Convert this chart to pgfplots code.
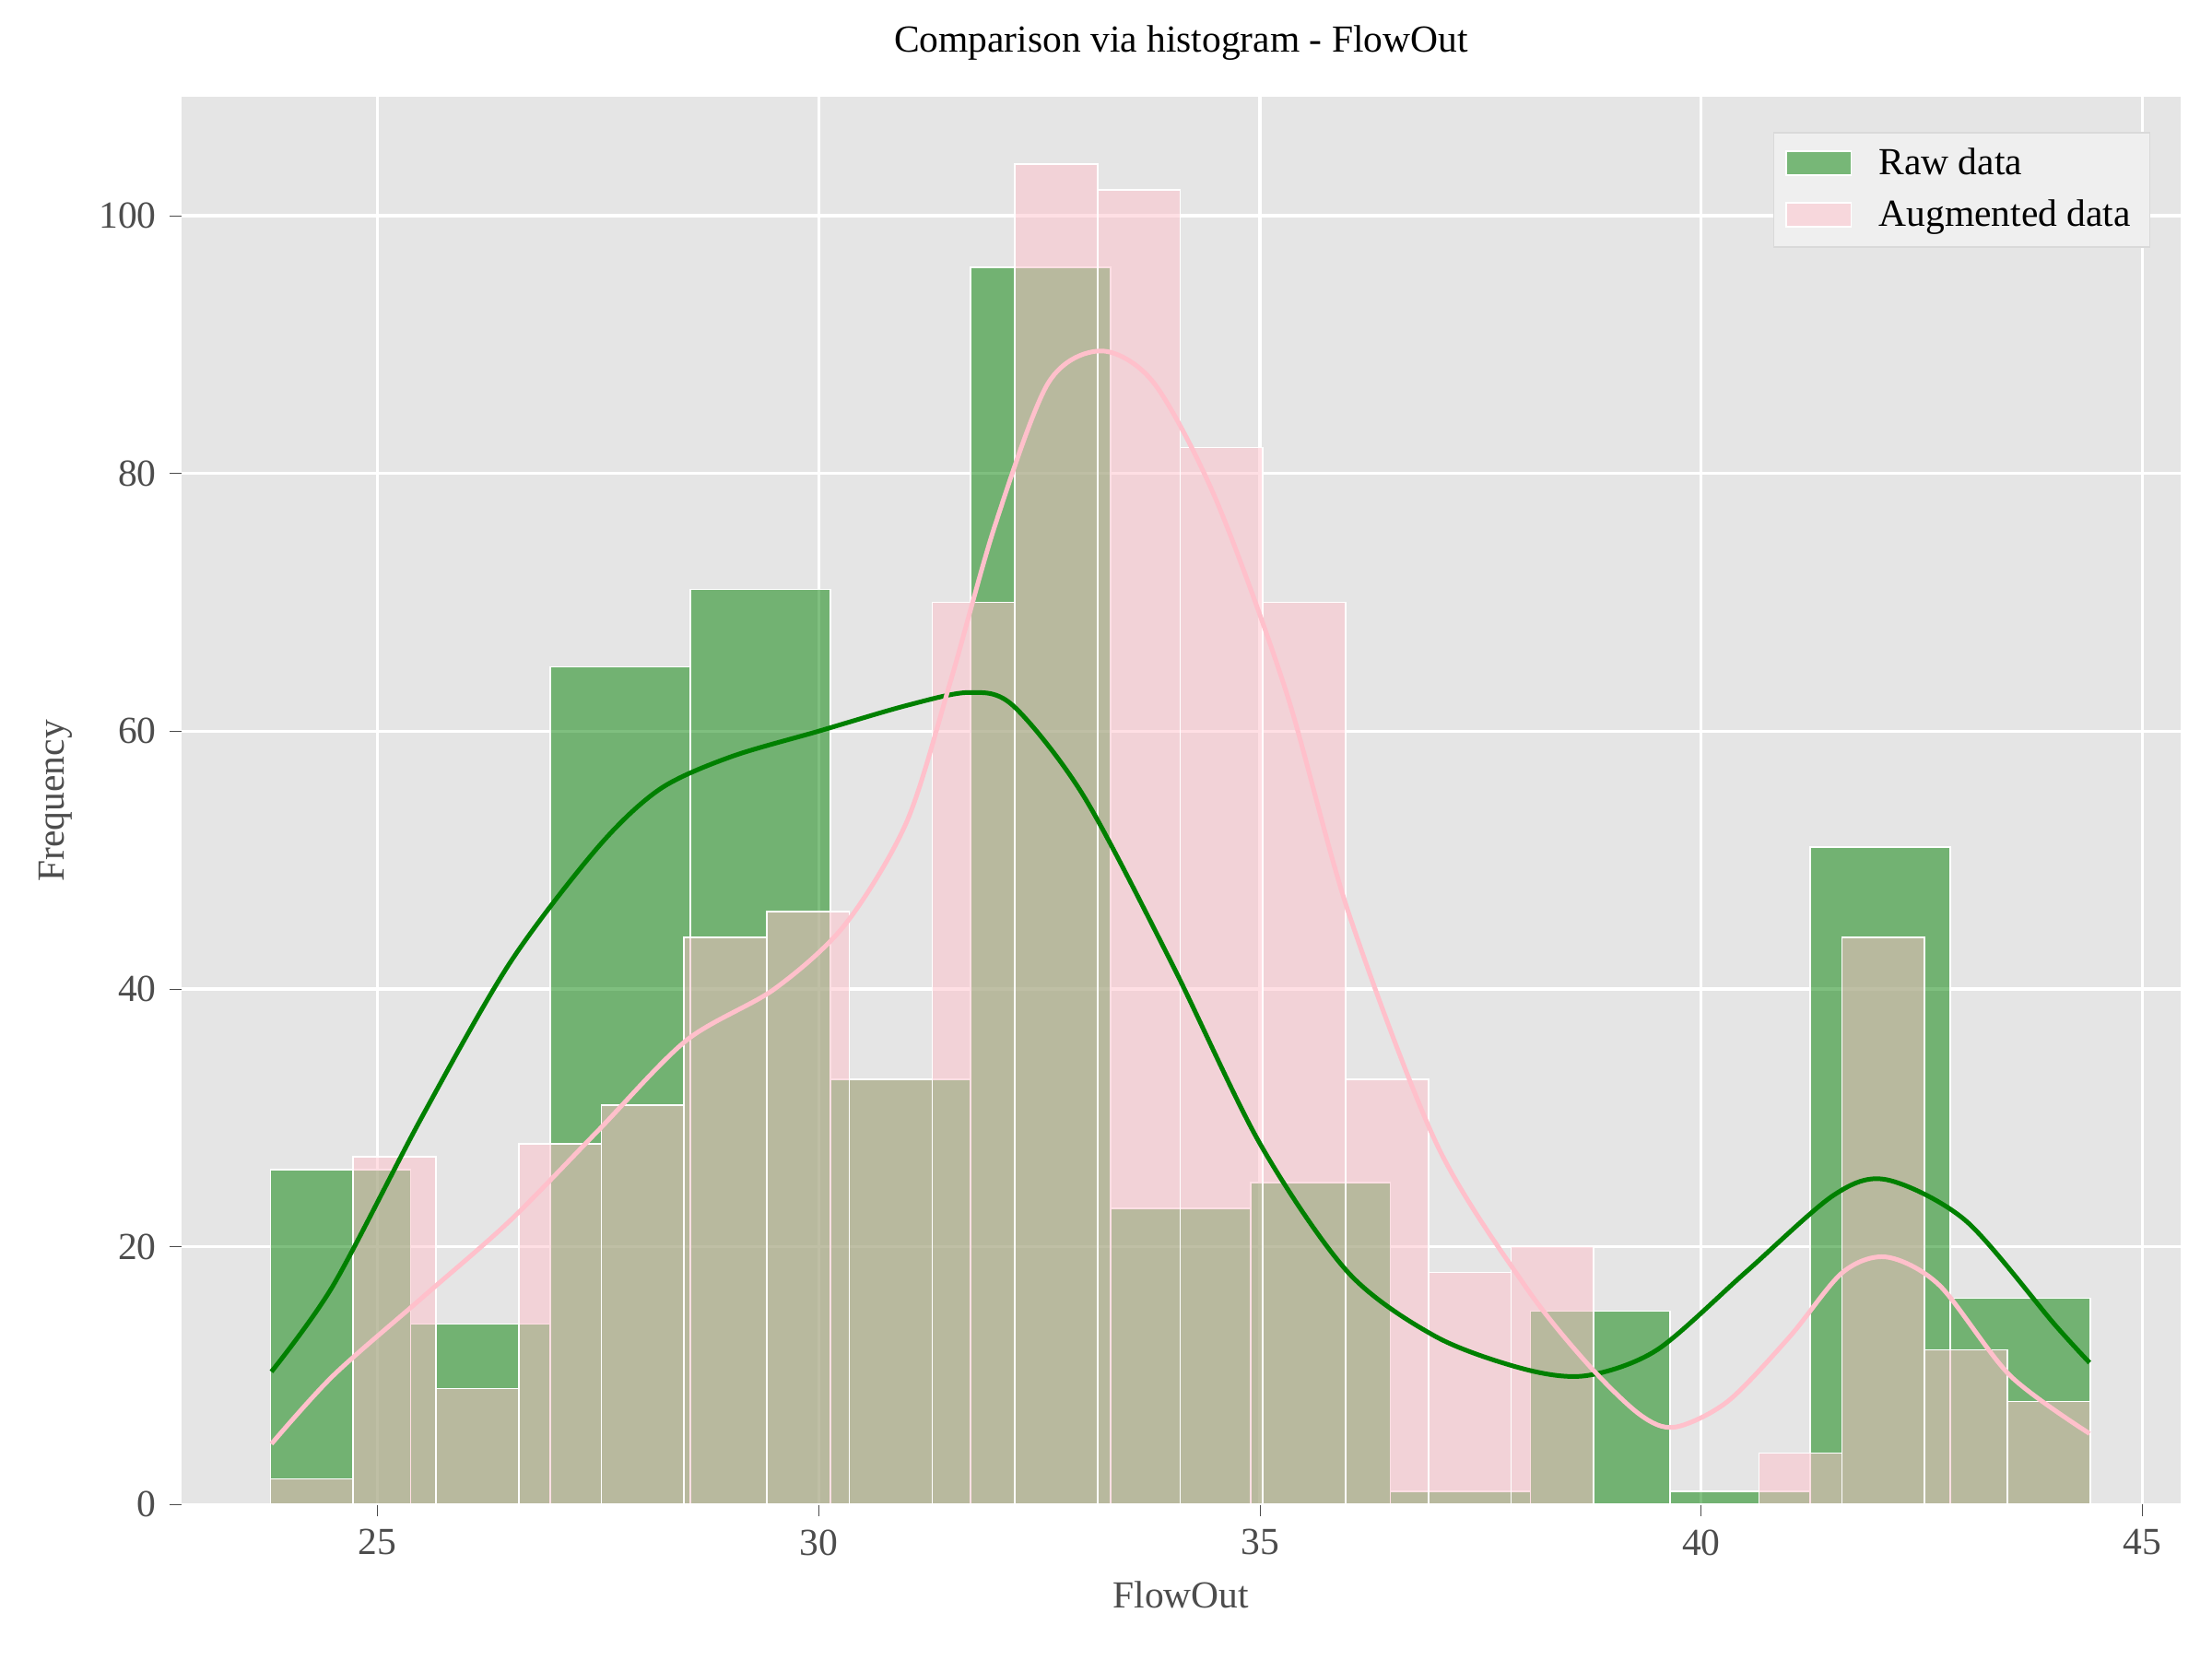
\documentclass[border=0pt]{standalone}
\usepackage{pgfplots}
\pgfplotsset{compat=1.18}
\usepackage{fontspec}
\setmainfont{Liberation Serif}
\definecolor{bg}{RGB}{229,229,229}
\definecolor{kgreen}{RGB}{0,128,0}
\definecolor{kpink}{RGB}{255,192,203}
\begin{document}
\fontsize{10}{12}\selectfont
\begin{tikzpicture}
\useasboundingbox (-0.656in,-0.559in) rectangle (7.344in,5.441in);
\begin{axis}[
scale only axis, width=7.23in, height=5.09in,
xmin=22.78, xmax=45.43, ymin=0, ymax=109.2,
axis background/.style={fill=bg}, axis line style={draw=none},
grid=major, grid style={white, line width=0.8pt},
xtick={25,30,35,40,45}, ytick={0,20,40,60,80,100},
xtick pos=bottom, ytick pos=left,
tick style={draw=black!70}, tick align=outside, major tick length=3pt,
ticklabel style={text=black!70, font=\fontsize{10}{12}\selectfont},
/pgf/number format/assume math mode=true,
xlabel={FlowOut}, ylabel={Frequency},
xlabel style={text=black!70, font=\fontsize{10}{12}\selectfont}, ylabel style={text=black!70, font=\fontsize{10}{12}\selectfont},
title style={font=\fontsize{10}{12}\selectfont},
title={Comparison via histogram - FlowOut},
legend style={at={(0.985,0.975)}, anchor=north east, fill=bg!60!white, draw=black!15, font=\fontsize{10}{12}\selectfont, row sep=1pt},
legend cell align=left, area legend,
legend image code/.code={\fill[#1] (0cm,-0.1cm) rectangle (0.6cm,0.12cm);},
]
\addplot[ybar interval, fill=kgreen, fill opacity=0.5, draw=white, line width=0.4pt] coordinates {
(23.79,26)(25.376,14)(26.962,65)(28.548,71)(30.134,33)(31.72,96)(33.306,23)(34.892,25)(36.478,1)(38.064,15)(39.65,1)(41.236,51)(42.822,16)(44.408,16)};
\addlegendentry{\ \ Raw data}
\addplot[ybar interval, fill=kpink, fill opacity=0.5, draw=white, line width=0.4pt] coordinates {
(23.79,2)(24.727,27)(25.664,9)(26.601,28)(27.538,31)(28.475,44)(29.412,46)(30.349,33)(31.286,70)(32.223,104)(33.16,102)(34.097,82)(35.034,70)(35.971,33)(36.908,18)(37.845,20)(38.782,0)(39.719,0)(40.656,4)(41.593,44)(42.53,12)(43.467,8)(44.404,8)};
\addlegendentry{\ \ Augmented data}
\addplot[kgreen, line width=1.2pt, smooth, tension=0.5, forget plot] coordinates {
(23.8,10.3)(24.5,17)(25.5,30)(26.5,42)(27.5,51)(28.2,55.5)(29,58)(30,60)(31,62)(31.7,63)(32.2,62)(33,55)(34,42)(35,28)(36,18)(37,13)(38,10.5)(38.7,10)(39.5,12)(40.5,18)(41.5,24)(42.1,25.2)(43,22)(44,14)(44.4,11)};
\addplot[kpink, line width=1.2pt, smooth, tension=0.5, forget plot] coordinates {
(23.8,4.7)(24.5,10)(25.5,16)(26.5,22)(27.5,29)(28.5,36)(29.5,40)(30.3,45)(31,53)(31.5,64)(32,76)(32.6,87)(33.2,89.5)(33.8,87)(34.5,78)(35.3,63)(36,46)(37,28)(38,17)(38.7,11)(39.3,7)(39.7,6)(40.3,8)(41,13)(41.6,18)(42.1,19.2)(42.7,17)(43.5,10)(44.4,5.5)};
\end{axis}
\end{tikzpicture}
\end{document}
